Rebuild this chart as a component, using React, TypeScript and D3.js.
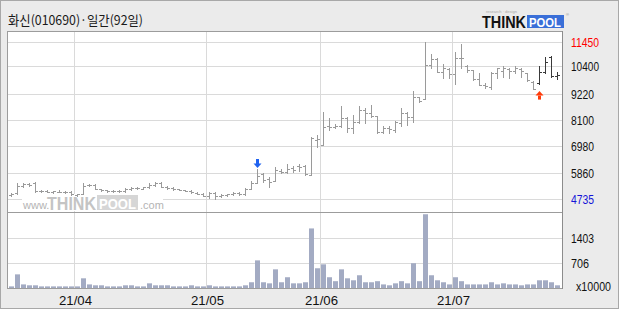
import React from "react";
import * as d3 from "d3";

const TITLE = "화신(010690)·일간(92일)";
const MONTH_LABELS = ["21/04", "21/05", "21/06", "21/07"];
const MONTH_START_INDEX = [11, 33, 52, 74];
const PRICE_TICKS = [11450, 10400, 9220, 8100, 6980, 5860, 4735];
const VOLUME_TICKS = [1403, 706];
const VOLUME_UNIT = "x10000";
const PRICE_MIN = 4735;
const PRICE_MAX = 11450;
const VOLUME_MAX = 2104;
const BUY_SIGNAL_INDEX = 41; // blue down arrow
const SELL_SIGNAL_INDEX = 88; // red up arrow
const DARK_FROM_INDEX = 88;

const opens = [
  4900, 4980, 5300, 5370, 5400, 5090, 5060, 5050, 5050, 5040, 5030,
  4920, 4950, 5330, 5350, 5150, 5100, 5080, 5060, 5070, 5180, 5200, 5180, 5230, 5320, 5420, 5250, 5200, 5150, 5100, 5080, 5000, 4960,
  4880, 4990, 4870, 4900, 4930, 4980, 4960, 5170, 5420, 5790, 5600, 5500, 5950, 5880, 6050, 6150, 6150, 5780, 7250,
  7050, 7850, 7800, 7860, 8200, 7750, 8030, 8530, 8390, 8290, 7600, 7750, 7700, 8000, 8400, 8250, 9100, 9005, 10450, 10700, 10170, 10300,
  10060, 10750, 10400, 10240, 9850, 9620, 9500, 10100, 10200, 10300, 10200, 10300, 10100, 9750, 9700, 10170, 10780, 10000,
];
const highs = [
  4990, 5420, 5420, 5420, 5440, 5120, 5100, 5090, 5100, 5080, 5060,
  4960, 5420, 5380, 5380, 5180, 5130, 5110, 5100, 5200, 5250, 5250, 5260, 5400, 5470, 5440, 5280, 5230, 5180, 5140, 5100, 5040, 4990,
  5045, 5045, 4930, 4960, 5030, 5040, 5190, 5500, 6015, 5830, 5690, 6110, 6000, 6220, 6150, 6250, 6200, 7395, 7470,
  8435, 8205, 7925, 8720, 8250, 8330, 8720, 8600, 8760, 8290, 7865, 7865, 8065, 8635, 8435, 9345, 9105, 11450, 10915, 10770, 10485, 10320,
  11025, 11340, 10455, 10245, 10100, 9700, 10145, 10340, 10425, 10340, 10425, 10315, 10100, 9760, 10400, 10780, 10850, 10170,
];
const lows = [
  4850, 4960, 5250, 5300, 5050, 5040, 5020, 5000, 5020, 5000, 4900,
  4880, 4940, 5280, 5150, 5080, 5050, 5040, 5030, 5050, 5120, 5160, 5160, 5200, 5300, 5250, 5180, 5140, 5100, 5060, 5000, 4940, 4860,
  4790, 4735, 4840, 4870, 4900, 4920, 4900, 5150, 5405, 5475, 5260, 5490, 5860, 5860, 5880, 5950, 5760, 5760, 6970,
  7040, 7680, 7755, 7820, 7610, 7570, 7990, 7990, 8250, 7570, 7570, 7540, 7610, 7865, 7895, 8010, 8890, 9005, 10315, 10145, 9915, 9915,
  9630, 10315, 10145, 9815, 9600, 9490, 9430, 9890, 9960, 9900, 10100, 9960, 9775, 9430, 9640, 10100, 9960, 9850,
];
const closes = [
  4960, 5300, 5370, 5350, 5080, 5080, 5050, 5060, 5040, 5050, 4940,
  4930, 5300, 5340, 5170, 5100, 5080, 5070, 5060, 5180, 5200, 5210, 5230, 5320, 5420, 5260, 5200, 5150, 5120, 5080, 5020, 4960, 4880,
  4990, 4860, 4900, 4930, 4990, 4960, 5170, 5400, 5720, 5560, 5475, 5985, 5880, 6030, 5975, 6100, 5790, 7320, 7300,
  7820, 7800, 7865, 8205, 7755, 8030, 8535, 8395, 8290, 7580, 7780, 7725, 8010, 8395, 8250, 9105, 8920, 10455, 10715, 10170, 10315, 10060,
  10770, 10740, 10245, 9860, 9605, 9560, 10100, 10315, 10315, 10200, 10315, 10200, 9815, 9430, 10170, 10600, 9980, 10030,
];
const volumes = [
  45, 380, 100, 75, 75, 45, 45, 45, 45, 45, 45,
  45, 270, 100, 75, 75, 45, 45, 45, 75, 75, 45, 45, 130, 75, 75, 75, 45, 45, 45, 75, 45, 45,
  75, 45, 45, 45, 45, 45, 75, 160, 770, 160, 130, 520, 160, 300, 130, 130, 160, 1660, 550,
  660, 300, 190, 520, 270, 215, 355, 160, 160, 190, 100, 75, 130, 190, 130, 690, 190, 2055, 355, 215, 160, 100,
  300, 190, 100, 100, 100, 100, 160, 100, 130, 100, 100, 75, 100, 100, 215, 215, 160, 75,
];

const W = 620;
const H = 310;
const PLOT_LEFT = 7;
const PLOT_RIGHT = 562;
const PLOT_TOP = 31;
const PRICE_BOTTOM = 212;
const VOL_BOTTOM = 288;

const BG = "#ebebeb";
const GRID = "#dadada";
const BORDER = "#9c9c9c";
const BAR = "#9a9a9a";
const BAR_DARK = "#3a3a3a";
const VOL = "#a3abc3";
const NUM_FONT = "'Liberation Sans', 'DejaVu Sans', sans-serif";
const KR_FONT = "'Noto Sans CJK KR', 'Noto Sans', sans-serif";

export default function App() {
  const idx = d3.range(opens.length);
  const x = d3
    .scaleBand<number>()
    .domain(idx)
    .range([8.5, 560.5])
    .paddingInner(1 / 6)
    .paddingOuter(1 / 12);
  const bw = x.bandwidth();
  const cx = (i: number) => Math.floor((x(i) as number) + bw / 2) + 0.5;

  const yP = d3.scaleLinear().domain([PRICE_MIN, PRICE_MAX]).range([199, 41.7]);
  const yV = d3.scaleLinear().domain([0, VOLUME_MAX]).range([VOL_BOTTOM, 212.5]);
  const snap = (v: number) => Math.round(v) + 0.5;

  const monthX = MONTH_START_INDEX.map((i) => Math.round(x(i) as number) - 0.5);

  const labelLen = (s: string) => (s.length === 5 ? 28 : s.length === 4 ? 23 : 18);

  const bx = cx(BUY_SIGNAL_INDEX);
  const byBottom = yP(highs[BUY_SIGNAL_INDEX]) - 1;
  const sx = cx(SELL_SIGNAL_INDEX);
  const syTop = yP(lows[SELL_SIGNAL_INDEX]) + 7;

  return (
    <svg
      width={W}
      height={H}
      viewBox={`0 0 ${W} ${H}`}
      style={{ position: "absolute", left: 0, top: 0, display: "block" }}
    >
      <rect x={0} y={0} width={W} height={H} fill="#ffffff" />
      <rect x={0.5} y={0.5} width={618} height={308} fill={BG} stroke="#a8a8a8" />

      {/* title */}
      <text
        x={8}
        y={25}
        fontFamily={KR_FONT}
        fontSize={13}
        fill="#1a1a1a"
        textLength={135}
        lengthAdjust="spacingAndGlyphs"
      >
        {TITLE}
      </text>

      {/* logo */}
      <text x={486} y={13} fontFamily={NUM_FONT} fontSize={4} fill="#aaaaaa">
        research · design
      </text>
      <text
        x={482}
        y={28}
        fontFamily={NUM_FONT}
        fontSize={16}
        fontWeight="bold"
        fill="#111111"
        textLength={44}
        lengthAdjust="spacingAndGlyphs"
      >
        THINK
      </text>
      <rect x={527} y={15} width={37} height={13} fill="#3a6fd8" />
      <text
        x={529}
        y={27}
        fontFamily={NUM_FONT}
        fontSize={13}
        fontWeight="bold"
        fill="#ffffff"
        textLength={32}
        lengthAdjust="spacingAndGlyphs"
      >
        POOL
      </text>
      <text x={566} y={16} fontFamily={NUM_FONT} fontSize={4} fill="#888">
        ®
      </text>

      {/* plot background */}
      <rect x={PLOT_LEFT} y={PLOT_TOP} width={PLOT_RIGHT - PLOT_LEFT} height={VOL_BOTTOM - PLOT_TOP} fill="#ffffff" />

      {/* price grid */}
      {PRICE_TICKS.map((t) => (
        <line key={"pg" + t} x1={PLOT_LEFT} x2={PLOT_RIGHT} y1={snap(yP(t))} y2={snap(yP(t))} stroke={GRID} />
      ))}
      {/* volume grid */}
      {VOLUME_TICKS.map((t) => (
        <line key={"vg" + t} x1={PLOT_LEFT} x2={PLOT_RIGHT} y1={snap(yV(t))} y2={snap(yV(t))} stroke={GRID} />
      ))}
      {/* month grid */}
      {monthX.map((mx, k) => (
        <line key={"mg" + k} x1={mx} x2={mx} y1={PLOT_TOP} y2={VOL_BOTTOM} stroke={GRID} />
      ))}

      {/* watermark */}
      <rect x={22} y={194} width={141} height={17} fill="#ffffff" />
      <text x={23} y={209} fontFamily={NUM_FONT} fontSize={11} fill="#b4b4b4">
        www.
      </text>
      <text
        x={47}
        y={210}
        fontFamily={NUM_FONT}
        fontSize={18}
        fontWeight="bold"
        fill="#c4c4c4"
        textLength={49}
        lengthAdjust="spacingAndGlyphs"
      >
        THINK
      </text>
      <rect x={97} y={195} width={41} height={15} fill="#d6d6d6" />
      <text
        x={99}
        y={209}
        fontFamily={NUM_FONT}
        fontSize={15}
        fontWeight="bold"
        fill="#ffffff"
        textLength={37}
        lengthAdjust="spacingAndGlyphs"
      >
        POOL
      </text>
      <text x={140} y={209} fontFamily={NUM_FONT} fontSize={11} fill="#b4b4b4">
        .com
      </text>

      {/* volume bars */}
      {idx.map((i) => (
        <rect
          key={"v" + i}
          x={Math.round(x(i) as number)}
          y={yV(volumes[i])}
          width={Math.round(bw)}
          height={VOL_BOTTOM - yV(volumes[i])}
          fill={VOL}
        />
      ))}

      {/* OHLC bars */}
      {idx.map((i) => {
        const c = cx(i);
        const col = i >= DARK_FROM_INDEX ? BAR_DARK : BAR;
        const yo = snap(yP(opens[i]));
        const yc = snap(yP(closes[i]));
        return (
          <g key={"b" + i} stroke={col} strokeWidth={1} shapeRendering="crispEdges">
            <line x1={c} x2={c} y1={Math.round(yP(highs[i]))} y2={Math.round(yP(lows[i])) + 1} />
            <line x1={c - 2.5} x2={c} y1={yo} y2={yo} />
            <line x1={c} x2={c + 2.5} y1={yc} y2={yc} />
          </g>
        );
      })}

      {/* signal arrows */}
      <g fill="#1f62f0">
        <rect x={bx - 1.5} y={byBottom - 9} width={3} height={5} />
        <path d={`M${bx - 4},${byBottom - 4.5} L${bx + 4},${byBottom - 4.5} L${bx},${byBottom} Z`} />
      </g>
      <g fill="#ff3b0a">
        <path d={`M${sx},${syTop} L${sx + 4},${syTop + 4.5} L${sx - 4},${syTop + 4.5} Z`} />
        <rect x={sx - 1.5} y={syTop + 4.5} width={3} height={4} />
      </g>

      {/* frame */}
      <line x1={PLOT_LEFT} x2={PLOT_RIGHT} y1={PLOT_TOP + 0.5} y2={PLOT_TOP + 0.5} stroke={BORDER} />
      <line x1={PLOT_LEFT} x2={PLOT_RIGHT} y1={PRICE_BOTTOM + 0.5} y2={PRICE_BOTTOM + 0.5} stroke={BORDER} />
      <line x1={PLOT_LEFT} x2={PLOT_RIGHT + 1} y1={VOL_BOTTOM + 0.5} y2={VOL_BOTTOM + 0.5} stroke={BORDER} />
      <line x1={PLOT_LEFT + 0.5} x2={PLOT_LEFT + 0.5} y1={PLOT_TOP} y2={VOL_BOTTOM} stroke={BORDER} />
      <line x1={PLOT_RIGHT + 0.5} x2={PLOT_RIGHT + 0.5} y1={PLOT_TOP} y2={VOL_BOTTOM + 1} stroke="#8c8c8c" />

      {/* price labels */}
      {PRICE_TICKS.map((t, k) => (
        <text
          key={"pl" + t}
          x={571}
          y={yP(t) + 5}
          fontFamily={NUM_FONT}
          fontSize={13}
          fill={k === 0 ? "#ff0000" : k === PRICE_TICKS.length - 1 ? "#1414d8" : "#111111"}
          textLength={labelLen(String(t))}
          lengthAdjust="spacingAndGlyphs"
        >
          {t}
        </text>
      ))}
      {/* volume labels */}
      {VOLUME_TICKS.map((t) => (
        <text
          key={"vl" + t}
          x={571}
          y={yV(t) + 5}
          fontFamily={NUM_FONT}
          fontSize={13}
          fill="#111111"
          textLength={labelLen(String(t))}
          lengthAdjust="spacingAndGlyphs"
        >
          {t}
        </text>
      ))}
      <text
        x={576}
        y={291}
        fontFamily={NUM_FONT}
        fontSize={13}
        fill="#111111"
        textLength={35}
        lengthAdjust="spacingAndGlyphs"
      >
        {VOLUME_UNIT}
      </text>

      {/* month labels */}
      {MONTH_LABELS.map((m, k) => (
        <text
          key={"ml" + m}
          x={monthX[k] + 1}
          y={305}
          textAnchor="middle"
          fontFamily={NUM_FONT}
          fontSize={13}
          fill="#111111"
          textLength={33}
          lengthAdjust="spacingAndGlyphs"
        >
          {m}
        </text>
      ))}
    </svg>
  );
}
